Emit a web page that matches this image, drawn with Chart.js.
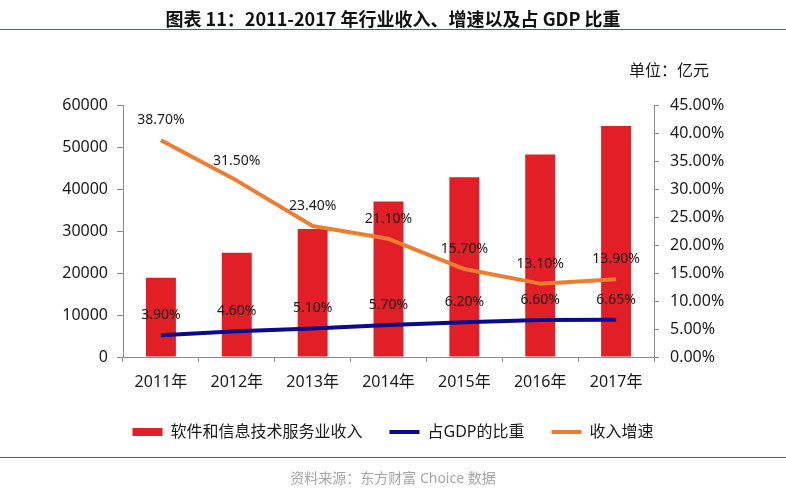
<!DOCTYPE html>
<html>
<head>
<meta charset="utf-8">
<script src="https://cdn.jsdelivr.net/npm/chart.js@4.4.1/dist/chart.umd.min.js"></script>
<style>
  body { margin: 0; background: #fff; }
  #page { position: relative; width: 786px; height: 491px; overflow: hidden; font-family: "Noto Sans", "Noto Sans CJK SC", sans-serif; }
  #wrap { position: absolute; left: 0; top: 0; width: 786px; height: 491px; }
  .rule { position: absolute; left: 0; width: 786px; height: 1px; background: #cf2d37; }
  #title { position: absolute; left: 0; width: 786px; top: 6px; text-align: center; font: bold 18px "Noto Sans CJK SC", sans-serif; color: #111; line-height: 24px; }
  #unit { position: absolute; left: 629px; top: 59px; font-size: 16px; line-height: 22px; color: #1a1a1a; }
  #source { position: absolute; left: 0; width: 786px; top: 468px; text-align: center; font-size: 14px; line-height: 20px; color: #a6a6a6; }
</style>
</head>
<body>
<div id="page">
  <div id="wrap"><canvas id="chart"></canvas></div>
  <div id="title">图表 11：2011-2017 年行业收入、增速以及占 GDP 比重</div>
  <div class="rule" style="top:29px"></div>
  <div id="unit">单位：亿元</div>
  <div class="rule" style="top:457px"></div>
  <div id="source">资料来源：东方财富 Choice 数据</div>
</div>
<script>
  // values
  const years = ["2011年", "2012年", "2013年", "2014年", "2015年", "2016年", "2017年"];
  const revenue = [18850, 24800, 30500, 37000, 42800, 48200, 55000];   // 亿元
  const gdpShare = [3.9, 4.6, 5.1, 5.7, 6.2, 6.6, 6.65];               // %
  const growth = [38.7, 31.5, 23.4, 21.1, 15.7, 13.1, 13.9];           // %
  const seriesNames = ["软件和信息技术服务业收入", "占GDP的比重", "收入增速"];

  const RED = "#e21f26";
  const NAVY = "#0a0a8c";
  const ORANGE = "#ed7d31";
  const AXIS = "#8c8c8c";
  const TEXT = "#1a1a1a";

  Chart.defaults.font.family = '"Noto Sans", "Noto Sans CJK SC", sans-serif';
  Chart.defaults.font.size = 16;
  Chart.defaults.color = TEXT;

  // percentage labels above each line point
  const pointLabels = {
    id: "pointLabels",
    afterDatasetsDraw(chart) {
      const ctx = chart.ctx;
      ctx.save();
      ctx.font = '14px "Noto Sans", "Noto Sans CJK SC", sans-serif';
      ctx.fillStyle = TEXT;
      ctx.textAlign = "center";
      ctx.textBaseline = "middle";
      [1, 2].forEach((di) => {
        const values = chart.data.datasets[di].data;
        chart.getDatasetMeta(di).data.forEach((pt, i) => {
          ctx.fillText(values[i].toFixed(2) + "%", pt.x, pt.y - 20);
        });
      });
      ctx.restore();
    },
  };

  function axisGrid(len) {
    return { drawOnChartArea: false, drawTicks: true, tickLength: len, color: AXIS };
  }

  new Chart(document.getElementById("chart"), {
    type: "bar",
    data: {
      labels: years,
      datasets: [
        {
          label: seriesNames[0],
          data: revenue,
          backgroundColor: RED,
          borderColor: RED,
          borderWidth: 0,
          barPercentage: 0.395,
          categoryPercentage: 1,
          yAxisID: "y",
          order: 3,
        },
        {
          type: "line",
          label: seriesNames[1],
          data: gdpShare,
          borderColor: NAVY,
          backgroundColor: NAVY,
          borderWidth: 4,
          pointRadius: 0,
          tension: 0,
          borderJoinStyle: "round",
          yAxisID: "y1",
          order: 2,
        },
        {
          type: "line",
          label: seriesNames[2],
          data: growth,
          borderColor: ORANGE,
          backgroundColor: ORANGE,
          borderWidth: 4,
          pointRadius: 0,
          tension: 0,
          borderJoinStyle: "round",
          yAxisID: "y1",
          order: 1,
        },
      ],
    },
    options: {
      responsive: true,
      maintainAspectRatio: false,
      animation: false,
      layout: { padding: { top: 105, left: 0, right: 0, bottom: 41 } },
      plugins: {
        tooltip: { enabled: false },
        legend: {
          position: "bottom",
          labels: {
            usePointStyle: true,
            pointStyleWidth: 30,
            boxHeight: 8,
            padding: 27,
            color: TEXT,
            font: { size: 16 },
            generateLabels(chart) {
              const items = Chart.defaults.plugins.legend.labels.generateLabels(chart);
              items.sort((a, b) => a.datasetIndex - b.datasetIndex);
              items.forEach((it) => {
                if (it.datasetIndex === 0) {
                  it.pointStyle = "rect";
                  it.lineWidth = 0;
                  it.fillStyle = RED;
                  it.strokeStyle = RED;
                } else {
                  it.pointStyle = "line";
                  it.lineWidth = 4;
                }
              });
              return items;
            },
          },
        },
      },
      scales: {
        x: {
          grid: axisGrid(5),
          border: { color: AXIS },
          ticks: { padding: 11, maxRotation: 0, font: { size: 16 } },
          afterFit(scale) { scale.height = 40; },
        },
        y: {
          position: "left",
          min: 0,
          max: 60000,
          grid: axisGrid(6),
          border: { color: AXIS },
          ticks: { stepSize: 10000, padding: 9, font: { size: 16 }, callback: (v) => String(v) },
          afterFit(scale) { scale.width = 123; },
        },
        y1: {
          position: "right",
          min: 0,
          max: 45,
          grid: axisGrid(5),
          border: { color: AXIS },
          ticks: {
            stepSize: 5,
            padding: 11,
            font: { size: 16 },
            callback: (v) => v.toFixed(2) + "%",
          },
          afterFit(scale) { scale.width = 132; },
        },
      },
    },
    plugins: [pointLabels],
  });
</script>
</body>
</html>
